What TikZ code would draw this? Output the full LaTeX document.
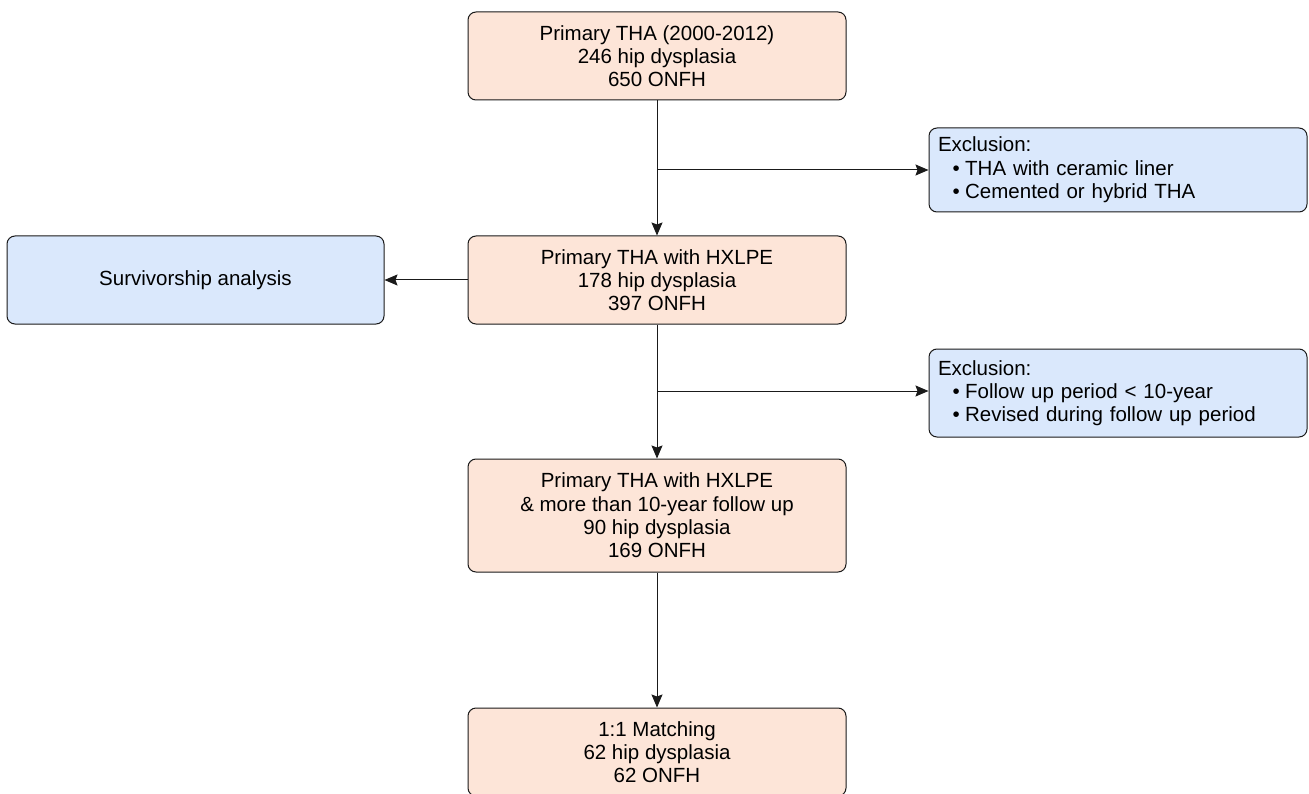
\documentclass[tikz,border=0pt]{standalone}
\usepackage{fontspec}
\setmainfont{Liberation Sans}
\usetikzlibrary{arrows.meta}
\definecolor{pinkfill}{HTML}{FDE5D8}
\definecolor{bluefill}{HTML}{DAE8FC}
\definecolor{edgecol}{HTML}{1A1A1A}
\begin{document}
\begin{tikzpicture}[x=1pt,y=-1pt,
  box/.style={draw=edgecol, line width=1pt, rounded corners=8pt, minimum width=378pt,
    inner sep=0pt, font=\fontsize{20.5}{23.3}\selectfont, align=center},
  pinkbox/.style={box, fill=pinkfill},
  bluebox/.style={box, fill=bluefill},
  exbox/.style={bluebox, align=left, text width=360pt, inner xsep=9pt},
  conn/.style={draw=edgecol, line width=1pt, -{Stealth[length=13pt,width=11pt,inset=2pt]}}]
\useasboundingbox (0,0) rectangle (1309,794);
\fill[white] (0,0) rectangle (1309,794);
\node[pinkbox, minimum height=88pt] (b1) at (657,56) {Primary THA (2000-2012)\\246 hip dysplasia\\650 ONFH};
\node[pinkbox, minimum height=88pt] (b2) at (657,280) {Primary THA with HXLPE\\178 hip dysplasia\\397 ONFH};
\node[pinkbox, minimum height=113pt] (b3) at (657,515.5) {Primary THA with HXLPE\\\& more than 10-year follow up\\90 hip dysplasia\\169 ONFH};
\node[pinkbox, minimum height=88pt] (b4) at (657,752) {1:1 Matching\\62 hip dysplasia\\62 ONFH};
\node[bluebox, minimum width=377pt, minimum height=88pt] (surv) at (195.5,280) {Survivorship analysis};
\node[exbox, minimum height=84pt] (e1) at (1118,170) {Exclusion:\\\hspace*{14.5pt}\textbullet\hspace{5.5pt}THA with ceramic liner\\\hspace*{14.5pt}\textbullet\hspace{5.5pt}Cemented or hybrid THA};
\node[exbox, minimum height=88pt] (e2) at (1118,393) {Exclusion:\\\hspace*{14.5pt}\textbullet\hspace{5.5pt}Follow up period < 10-year\\\hspace*{14.5pt}\textbullet\hspace{5.5pt}Revised during follow up period};
\coordinate (j1) at (657,170);
\coordinate (j2) at (657,391);
\draw[conn] (b1) -- (b2);
\draw[conn] (j1) -- (j1 -| e1.west);
\draw[conn] (b2) -- (surv);
\draw[conn] (b2) -- (b3);
\draw[conn] (j2) -- (j2 -| e2.west);
\draw[conn] (b3) -- (b4);
\end{tikzpicture}
\end{document}
